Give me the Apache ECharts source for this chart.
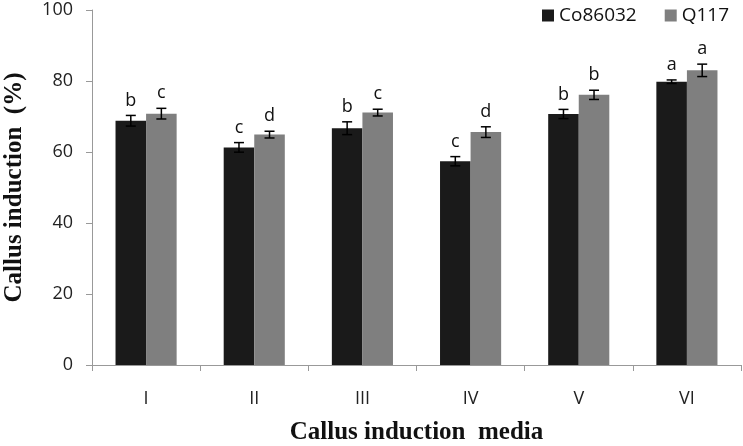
<!DOCTYPE html>
<html>
<head>
<meta charset="utf-8">
<script src="https://cdn.jsdelivr.net/npm/echarts@6/dist/echarts.min.js"></script>
<style>html,body{margin:0;padding:0;background:#fff}#c{width:743px;height:446px}</style>
</head>
<body>
<div id="c"></div>
<script>
const categories = ['I', 'II', 'III', 'IV', 'V', 'VI'];
const seriesNames = ['Co86032', 'Q117'];
const co86032 = [68.8, 61.3, 66.7, 57.4, 70.7, 79.8];
const q117 = [70.8, 64.9, 71.1, 65.6, 76.1, 83.0];
const coErr = [1.5, 1.35, 1.8, 1.3, 1.3, 0.5];
const qErr = [1.5, 0.95, 0.95, 1.5, 1.3, 1.75];
const coLetters = ['b', 'c', 'b', 'c', 'b', 'a'];
const qLetters = ['c', 'd', 'c', 'd', 'b', 'a'];
const yTicks = [0, 20, 40, 60, 80, 100];

const GAP = 0.435;
const colors = ['#1a1a1a', '#7f7f7f'];

function errSeries(vals, errs, letters, idx) {
  const data = vals.map((v, i) => [i, v, errs[i]]);
  return {
    type: 'custom',
    name: seriesNames[idx] + ' err',
    z: 10,
    silent: true,
    data: data,
    renderItem: function (params, api) {
      const i = api.value(0), v = api.value(1), e = api.value(2);
      const band = api.size([1, 0])[0];
      const bw = band * (1 - GAP) / 2;
      const c = api.coord([i, v]);
      const x = c[0] + (idx === 0 ? -bw / 2 : bw / 2);
      const top = api.coord([i, v + e])[1];
      const bot = api.coord([i, v - e])[1];
      const cap = 5;
      const st = { stroke: '#000', lineWidth: 1.5 };
      return {
        type: 'group',
        children: [
          { type: 'line', shape: { x1: x, y1: top, x2: x, y2: bot }, style: st },
          { type: 'line', shape: { x1: x - cap, y1: top, x2: x + cap, y2: top }, style: st },
          { type: 'line', shape: { x1: x - cap, y1: bot, x2: x + cap, y2: bot }, style: st },
          { type: 'text', style: { x: x, y: top - 6, text: letters[i], fill: '#111',
              font: '18px "Open Sans", sans-serif', textAlign: 'center', textVerticalAlign: 'bottom' } }
        ]
      };
    }
  };
}

const chart = echarts.init(document.getElementById('c'), null, { renderer: 'canvas' });
chart.setOption({
  animation: false,
  backgroundColor: '#fff',
  grid: { left: 92, right: 2, top: 10, bottom: 81, containLabel: false, outerBoundsMode: 'none' },
  legend: {
    data: seriesNames,
    left: 537, top: 1,
    itemWidth: 12, itemHeight: 12, itemGap: 28,
    icon: 'rect',
    textStyle: { fontFamily: '"Open Sans", sans-serif', fontSize: 19, color: '#111' }
  },
  xAxis: {
    type: 'category',
    data: categories,
    name: 'Callus induction  media',
    nameLocation: 'middle',
    nameGap: 55,
    nameTextStyle: { fontFamily: '"Liberation Serif", serif', fontWeight: 'bold', fontSize: 25, color: '#111' },
    axisLine: { lineStyle: { color: '#999', width: 1 } },
    axisTick: { show: true, length: 6, lineStyle: { color: '#999' } },
    axisLabel: { margin: 25, fontFamily: '"Open Sans", sans-serif', fontSize: 18, color: '#222' }
  },
  yAxis: {
    type: 'value',
    min: 0, max: 100, interval: 20,
    name: 'Callus induction  (%)',
    nameLocation: 'middle',
    nameGap: 65,
    nameTextStyle: { fontFamily: '"Liberation Serif", serif', fontWeight: 'bold', fontSize: 25, color: '#111' },
    axisLine: { show: true, lineStyle: { color: '#999', width: 1 } },
    axisTick: { show: true, length: 6, lineStyle: { color: '#999' } },
    splitLine: { show: false },
    axisLabel: { margin: 19, fontFamily: '"Open Sans", sans-serif', fontSize: 18, color: '#222',
      formatter: function (v) { return yTicks.indexOf(v) >= 0 ? String(v) : ''; } }
  },
  series: [
    { type: 'bar', name: seriesNames[0], data: co86032, barGap: '0%', barCategoryGap: (GAP * 100) + '%',
      itemStyle: { color: colors[0] } },
    { type: 'bar', name: seriesNames[1], data: q117, barGap: '0%', barCategoryGap: (GAP * 100) + '%',
      itemStyle: { color: colors[1] } },
    errSeries(co86032, coErr, coLetters, 0),
    errSeries(q117, qErr, qLetters, 1)
  ]
});
</script>
</body>
</html>
